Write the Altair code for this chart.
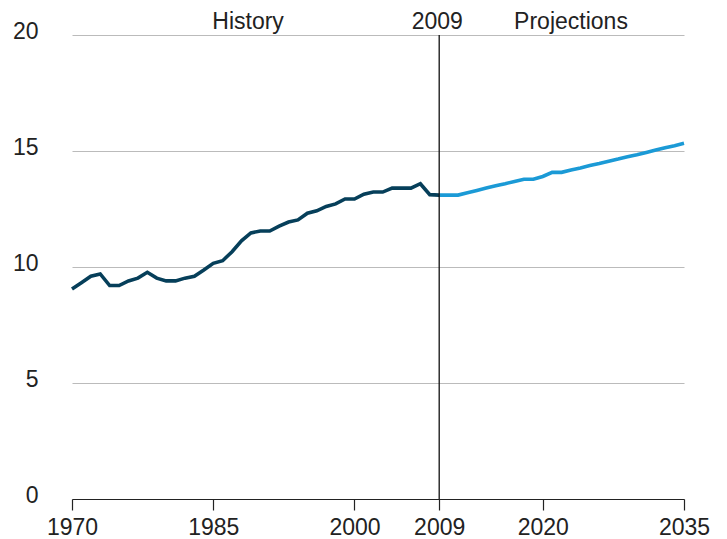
import altair as alt
import pandas as pd

hist_years = list(range(1970, 2010))
hist_values = [9.05, 9.32, 9.6, 9.7, 9.2, 9.2, 9.4, 9.52, 9.77, 9.52,
               9.4, 9.4, 9.52, 9.6, 9.87, 10.16, 10.27, 10.66, 11.13, 11.47,
               11.55, 11.55, 11.76, 11.94, 12.03, 12.32, 12.42, 12.61, 12.72, 12.93,
               12.93, 13.14, 13.23, 13.23, 13.4, 13.4, 13.4, 13.59, 13.12, 13.1]

proj_years = list(range(2009, 2036))
proj_values = [13.1, 13.1, 13.1, 13.2, 13.3, 13.4, 13.5, 13.59, 13.69, 13.78,
               13.78, 13.9, 14.08, 14.08, 14.18, 14.27, 14.37, 14.46, 14.56, 14.65,
               14.75, 14.84, 14.94, 15.04, 15.14, 15.23, 15.33]

x_ticks = [1970, 1985, 2000, 2009, 2020, 2035]
y_ticks = [0, 5, 10, 15, 20]

divider_year = [2009]
note_labels = ["History", "2009", "Projections"]
note_years = [1988.7, 2008.8, 2023.0]

series_names = ["History", "Projections"]
series_colors = ["#063f5a", "#1b9ad6"]

df = pd.concat([
    pd.DataFrame({"year": hist_years, "value": hist_values, "series": "History"}),
    pd.DataFrame({"year": proj_years, "value": proj_values, "series": "Projections"}),
])

FONT = "Liberation Sans"

x_enc = alt.X(
    "year:Q",
    scale=alt.Scale(domain=[1970, 2035], nice=False, zero=False),
    axis=alt.Axis(values=x_ticks, format="d", title=None, grid=False,
                  domainColor="#222222", domainWidth=1.2,
                  tickColor="#222222", tickSize=11, tickWidth=1.2,
                  labelFontSize=23, labelFont=FONT, labelColor="#222222",
                  labelPadding=6, labelFlush=False),
)
y_enc = alt.Y(
    "value:Q",
    scale=alt.Scale(domain=[0, 20], nice=False),
    axis=alt.Axis(values=y_ticks, title=None, grid=True, gridColor="#bbbbbb",
                  gridWidth=1, domain=False, ticks=False,
                  labelFontSize=23, labelFont=FONT, labelColor="#222222",
                  labelPadding=34, labelBaseline="alphabetic", labelOffset=3),
)

lines = alt.Chart(df).mark_line(strokeWidth=3.6).encode(
    x=x_enc,
    y=y_enc,
    color=alt.Color("series:N", scale=alt.Scale(domain=series_names, range=series_colors), legend=None),
    detail="series:N",
)

rule = alt.Chart(pd.DataFrame({"year": divider_year})).mark_rule(
    color="#111111", strokeWidth=1.3
).encode(
    x="year:Q",
    y=alt.datum(0),
    y2=alt.datum(20),
)

notes = alt.Chart(pd.DataFrame({"label": note_labels, "year": note_years})).mark_text(
    font=FONT, fontSize=23, color="#222222", baseline="alphabetic", align="center"
).encode(
    x="year:Q",
    y=alt.value(-6),
    text="label:N",
)

chart = alt.layer(lines, rule, notes).properties(
    width=612,
    height=464,
    autosize=alt.AutoSizeParams(type="none"),
    padding={"left": 64, "top": 27, "right": 35, "bottom": 40},
).configure_view(stroke=None)

chart.save("out.html", embed_options={"renderer": "svg", "actions": False})
